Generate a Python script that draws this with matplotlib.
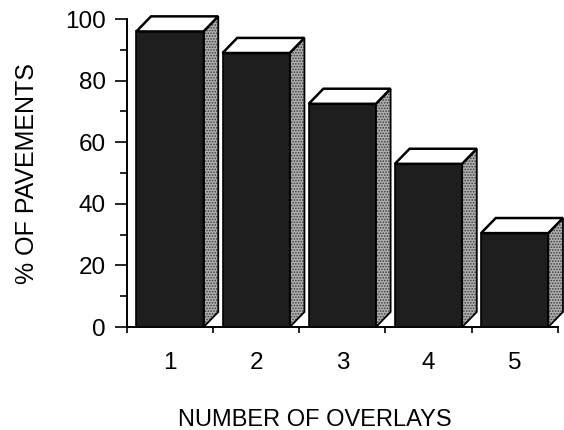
import matplotlib
matplotlib.use("Agg")
import matplotlib.pyplot as plt
from matplotlib.patches import Polygon

overlays = [1, 2, 3, 4, 5]
pct_pavements = [96, 89, 72.5, 53, 30.5]
tick_labels = ['1', '2', '3', '4', '5']

plt.rcParams['font.family'] = ['Liberation Sans', 'DejaVu Sans']
plt.rcParams['hatch.linewidth'] = 0.8

fig = plt.figure(figsize=(5.64, 4.30), dpi=100)
ax = fig.add_axes([0.225, 0.2395, 0.764, 0.716])

w = 0.78      # front face width
dx = 0.17     # depth offset in x
dy = 4.9      # depth offset in y

bars = ax.bar(overlays, pct_pavements, width=w, color='#1e1e1e',
              edgecolor='black', linewidth=1.2, zorder=3)

for b in bars:
    x0 = b.get_x()
    x1 = x0 + b.get_width()
    h = b.get_height()
    top = [(x0, h), (x1, h), (x1 + dx, h + dy), (x0 + dx, h + dy)]
    side = [(x1, 0), (x1 + dx, dy), (x1 + dx, h + dy), (x1, h)]
    ax.add_patch(Polygon(top, closed=True, facecolor='white', edgecolor='black',
                         linewidth=1.8, zorder=4, clip_on=False))
    ax.add_patch(Polygon(side, closed=True, facecolor='#b0b0b0', edgecolor='#3a3a3a',
                         hatch='......', linewidth=0, zorder=2, clip_on=False))
    ax.add_patch(Polygon(side, closed=True, fill=False, edgecolor='black',
                         linewidth=1.3, zorder=4, clip_on=False))

ax.set_xlim(0.5, 5.5)
ax.set_ylim(0, 100)
ax.set_yticks([0, 20, 40, 60, 80, 100])
ax.set_yticks([10, 30, 50, 70, 90], minor=True)
ax.set_xticks(overlays)
ax.set_xticklabels(tick_labels)
ax.set_xticks([0.5, 1.5, 2.5, 3.5, 4.5, 5.5], minor=True)

for s in ['top', 'right']:
    ax.spines[s].set_visible(False)
ax.spines['left'].set_linewidth(1.4)
ax.spines['bottom'].set_linewidth(1.4)

ax.tick_params(axis='y', which='major', length=9, width=1.2, labelsize=17.5, pad=6)
ax.tick_params(axis='y', which='minor', length=5, width=1.2)
ax.tick_params(axis='x', which='major', length=0, labelsize=17.5, pad=18)
ax.tick_params(axis='x', which='minor', length=4, width=1.2)

ax.set_ylabel('% OF PAVEMENTS', fontsize=18, labelpad=19)
ax.set_xlabel('NUMBER OF OVERLAYS', fontsize=17, labelpad=25, x=0.436)

fig.savefig('out.png', dpi=100)
